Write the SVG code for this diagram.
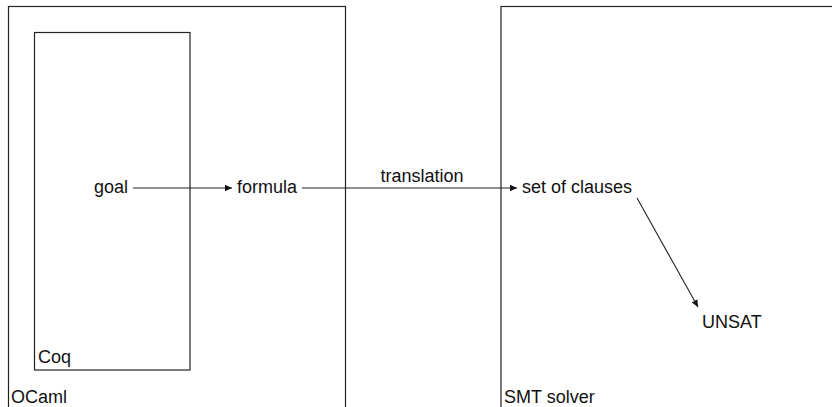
<svg xmlns="http://www.w3.org/2000/svg" width="832" height="407" viewBox="0 0 832 407">
  <style>
    .box { fill: none; stroke: #222; stroke-width: 1.2; }
    .lbl { font-family: "Liberation Sans", Arial, sans-serif; font-size: 18px; fill: #111; }
    .edge { stroke: #222; stroke-width: 1.1; fill: none; marker-end: url(#head); }
  </style>
  <defs>
    <marker id="head" markerWidth="8" markerHeight="8" refX="7" refY="4" orient="auto" markerUnits="userSpaceOnUse">
      <path d="M0,0.8 L7,4 L0,7.2 z" fill="#111"/>
    </marker>
  </defs>

  <g id="ocaml">
    <rect class="box" x="8.5" y="6.5" width="337" height="420"/>
    <text class="lbl" x="11" y="403">OCaml</text>
  </g>
  <g id="coq">
    <rect class="box" x="34.5" y="32.5" width="155.5" height="337.5"/>
    <text class="lbl" x="38" y="363">Coq</text>
  </g>
  <g id="smt">
    <rect class="box" x="501" y="6.5" width="360" height="420"/>
    <text class="lbl" x="504" y="403">SMT solver</text>
  </g>

  <g id="goal"><text class="lbl" x="94" y="193">goal</text></g>
  <g id="formula"><text class="lbl" x="237" y="193">formula</text></g>
  <g id="clauses"><text class="lbl" x="522" y="193">set of clauses</text></g>
  <g id="unsat"><text class="lbl" x="702" y="328">UNSAT</text></g>

  <g id="connectors">
    <line class="edge" x1="133" y1="188" x2="232" y2="188"/>
    <line class="edge" x1="302" y1="188" x2="517" y2="188"/>
    <text class="lbl" x="422" y="182" text-anchor="middle">translation</text>
    <line class="edge" x1="637" y1="198" x2="698" y2="307"/>
  </g>
</svg>
